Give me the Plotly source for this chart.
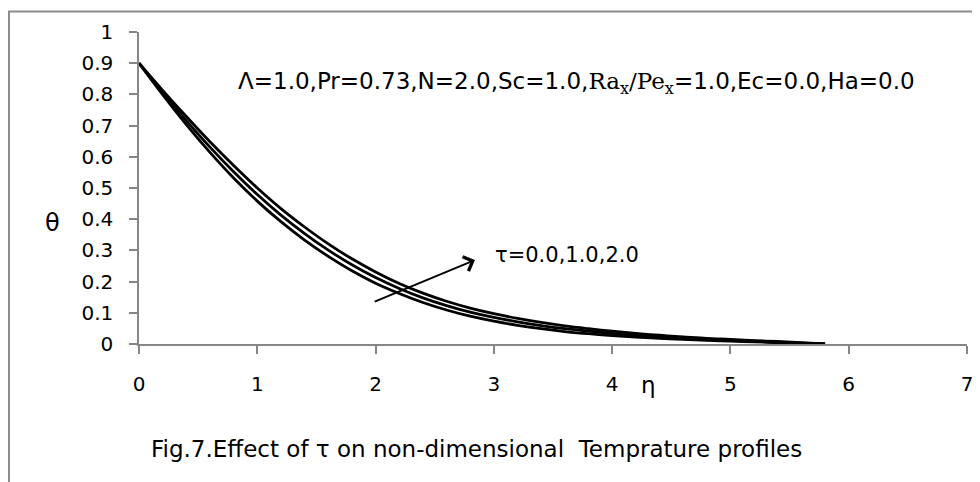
import plotly.graph_objects as go

eta = [0.0, 0.2, 0.4, 0.6, 0.8, 1.0, 1.2, 1.4, 1.6, 1.8, 2.0, 2.2, 2.4, 2.6, 2.8, 3.0,
       3.2, 3.4, 3.6, 3.8, 4.0, 4.2, 4.4, 4.6, 4.8, 5.0, 5.2, 5.4, 5.6, 5.8]
theta_tau0 = [0.900, 0.799, 0.703, 0.614, 0.532, 0.458, 0.392, 0.333, 0.281, 0.235, 0.195,
              0.162, 0.133, 0.109, 0.089, 0.073, 0.060, 0.049, 0.040, 0.033, 0.027, 0.022,
              0.018, 0.015, 0.012, 0.009, 0.007, 0.004, 0.002, 0.000]
theta_tau1 = [0.900, 0.806, 0.716, 0.631, 0.552, 0.479, 0.413, 0.354, 0.301, 0.254, 0.213,
              0.178, 0.148, 0.123, 0.102, 0.085, 0.071, 0.059, 0.049, 0.041, 0.034, 0.028,
              0.023, 0.019, 0.015, 0.012, 0.009, 0.006, 0.003, 0.000]
theta_tau2 = [0.900, 0.813, 0.729, 0.648, 0.572, 0.500, 0.434, 0.375, 0.321, 0.273, 0.231,
              0.194, 0.163, 0.137, 0.115, 0.097, 0.082, 0.069, 0.058, 0.049, 0.041, 0.034,
              0.028, 0.023, 0.018, 0.015, 0.011, 0.008, 0.004, 0.000]
series = [("τ=0.0", theta_tau0), ("τ=1.0", theta_tau1), ("τ=2.0", theta_tau2)]

x_ticks = [0, 1, 2, 3, 4, 5, 6, 7]
y_ticks = [0, 0.1, 0.2, 0.3, 0.4, 0.5, 0.6, 0.7, 0.8, 0.9, 1]
y_tick_text = ["0", "0.1", "0.2", "0.3", "0.4", "0.5", "0.6", "0.7", "0.8", "0.9", "1"]

FONT = "DejaVu Sans"
AX = "#868686"

fig = go.Figure()
for name, ys in series:
    fig.add_trace(go.Scatter(x=eta, y=ys, mode="lines", name=name,
                             line=dict(color="black", width=2.8, shape="spline", smoothing=1.0),
                             showlegend=False, hoverinfo="skip"))

fig.update_layout(
    width=980, height=482,
    margin=dict(l=131, r=21, t=22, b=146),
    paper_bgcolor="white", plot_bgcolor="white",
    font=dict(family=FONT, color="black", size=20),
    xaxis=dict(range=[0, 7], tickvals=x_ticks, ticks="outside", ticklen=8, tickwidth=1.5,
               tickcolor=AX, showline=True, linecolor=AX, linewidth=1.5, showgrid=False,
               zeroline=False, tickfont=dict(family=FONT, size=20), ticklabelstandoff=13),
    yaxis=dict(range=[0, 1], tickvals=y_ticks, ticktext=y_tick_text, ticks="outside", ticklen=8,
               tickwidth=1.5, tickcolor=AX, showline=True, linecolor=AX, linewidth=1.5,
               showgrid=False, zeroline=False, tickfont=dict(family=FONT, size=20),
               ticklabelstandoff=12),
)

fig.add_annotation(xref="paper", yref="paper", x=0.528, y=0.836, showarrow=False,
                   xanchor="center", yanchor="middle", font=dict(family=FONT, size=23),
                   text="Λ=1.0,Pr=0.73,N=2.0,Sc=1.0,<span style='font-family:DejaVu Serif'>Ra<sub>x</sub>/Pe<sub>x</sub></span>=1.0,Ec=0.0,Ha=0.0")
fig.add_annotation(xref="paper", yref="paper", x=0.5175, y=0.2866, showarrow=False,
                   xanchor="center", yanchor="middle", font=dict(family=FONT, size=21),
                   text="τ=0.0,1.0,2.0")
fig.add_annotation(xref="x", yref="y", x=2.84, y=0.269, ax=1.98, ay=0.134,
                   axref="x", ayref="y", text="", showarrow=True, arrowhead=4,
                   arrowsize=1.5, arrowwidth=2, arrowcolor="black", standoff=0)
fig.add_annotation(xref="paper", yref="paper", x=-0.105, y=0.389, showarrow=False,
                   xanchor="center", yanchor="middle", font=dict(family=FONT, size=24),
                   text="θ")
fig.add_annotation(xref="paper", yref="paper", x=(648 - 139) / 828, y=(344 - 385) / 314,
                   showarrow=False, xanchor="center", yanchor="middle",
                   font=dict(family=FONT, size=23), text="η")
fig.add_annotation(xref="paper", yref="paper", x=0.4076, y=-0.3376, showarrow=False,
                   xanchor="center", yanchor="middle", font=dict(family=FONT, size=23),
                   text="Fig.7.Effect of τ on non-dimensional  Temprature profiles")

fig.add_shape(type="path", xref="paper", yref="paper",
              path="M -0.1570,-0.6 L -0.1570,1.066 L 1.2,1.066",
              line=dict(color="#8c8c8c", width=2))

fig.write_html("out.html")
